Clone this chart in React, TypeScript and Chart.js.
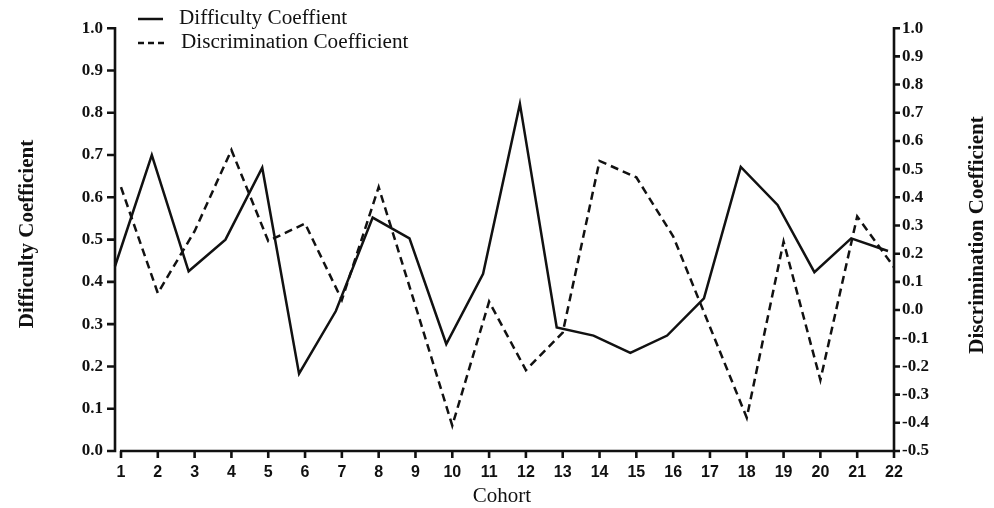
import React, { useEffect, useRef } from "react";
import { Chart, registerables } from "chart.js";

Chart.register(...registerables);

const cohorts = [1, 2, 3, 4, 5, 6, 7, 8, 9, 10, 11, 12, 13, 14, 15, 16, 17, 18, 19, 20, 21, 22];
const difficulty = [0.437, 0.70, 0.425, 0.50, 0.67, 0.183, 0.331, 0.552, 0.503, 0.253, 0.419, 0.821, 0.292, 0.273, 0.232, 0.273, 0.361, 0.672, 0.582, 0.423, 0.503, 0.473];
const discrimination = [0.436, 0.06, 0.28, 0.568, 0.245, 0.307, 0.036, 0.436, 0.015, -0.41, 0.03, -0.213, -0.08, 0.529, 0.471, 0.262, -0.06, -0.382, 0.243, -0.248, 0.332, 0.152];
const leftTicks = [0, 0.1, 0.2, 0.3, 0.4, 0.5, 0.6, 0.7, 0.8, 0.9, 1.0];
const rightTicks = [-0.5, -0.4, -0.3, -0.2, -0.1, 0, 0.1, 0.2, 0.3, 0.4, 0.5, 0.6, 0.7, 0.8, 0.9, 1.0];
const seriesNames = ["Difficulty Coeffient", "Discrimination Coefficient"];
const xTitle = "Cohort";
const leftTitle = "Difficulty Coefficient";
const rightTitle = "Discrimination Coefficient";

const SERIF = '"Liberation Serif", "Times New Roman", serif';
const SANS = '"Liberation Sans", Arial, sans-serif';
const INK = "#111";

const axesPlugin = {
  id: "prismAxes",
  afterDraw(chart: any) {
    const ctx = chart.ctx;
    const { left, right, top, bottom } = chart.chartArea;
    const y = chart.scales.y;
    const y2 = chart.scales.y2;
    const x = chart.scales.x;
    ctx.save();
    ctx.strokeStyle = INK;
    ctx.fillStyle = INK;
    ctx.lineWidth = 2.6;
    ctx.lineCap = "butt";
    const lx = left - 6;
    // left axis
    ctx.beginPath();
    ctx.moveTo(lx, top - 1.3);
    ctx.lineTo(lx, bottom + 1.3);
    leftTicks.forEach((v) => {
      const p = y.getPixelForValue(v);
      ctx.moveTo(lx - 8, p);
      ctx.lineTo(lx, p);
    });
    ctx.stroke();
    // right axis
    ctx.beginPath();
    ctx.moveTo(right, top - 1.3);
    ctx.lineTo(right, bottom + 1.3);
    rightTicks.forEach((v) => {
      const p = y2.getPixelForValue(v);
      ctx.moveTo(right, p);
      ctx.lineTo(right + 6, p);
    });
    ctx.stroke();
    // x axis
    ctx.beginPath();
    ctx.moveTo(left - 1, bottom);
    ctx.lineTo(right + 1, bottom);
    cohorts.forEach((c) => {
      const p = x.getPixelForValue(c);
      ctx.moveTo(p, bottom);
      ctx.lineTo(p, bottom + 7);
    });
    ctx.stroke();

    // titles
    ctx.textAlign = "center";
    ctx.textBaseline = "middle";
    ctx.font = `bold 21px ${SERIF}`;
    ctx.save();
    ctx.translate(28, 234);
    ctx.rotate(-Math.PI / 2);
    ctx.fillText(leftTitle, 0, 0);
    ctx.restore();
    ctx.save();
    ctx.translate(978, 235);
    ctx.rotate(-Math.PI / 2);
    ctx.fillText(rightTitle, 0, 0);
    ctx.restore();
    ctx.font = `21px ${SERIF}`;
    ctx.fillText(xTitle, 502, 496);

    // legend
    ctx.lineWidth = 2.5;
    ctx.beginPath();
    ctx.moveTo(138, 19);
    ctx.lineTo(163, 19);
    ctx.stroke();
    ctx.setLineDash([6, 4]);
    ctx.beginPath();
    ctx.moveTo(138, 43);
    ctx.lineTo(166, 43);
    ctx.stroke();
    ctx.setLineDash([]);
    ctx.textAlign = "left";
    ctx.font = `20px ${SERIF}`;
    ctx.save();
    ctx.translate(179, 19);
    ctx.scale(1.06, 1);
    ctx.fillText(seriesNames[0], 0, 0);
    ctx.restore();
    ctx.save();
    ctx.translate(181, 43);
    ctx.scale(1.06, 1);
    ctx.fillText(seriesNames[1], 0, 0);
    ctx.restore();
    ctx.restore();
  },
};

export default function App() {
  const ref = useRef<HTMLCanvasElement | null>(null);
  useEffect(() => {
    if (!ref.current) return;
    const shift = 6 / (773 / 21);
    const chart = new Chart(ref.current, {
      type: "line",
      data: {
        datasets: [
          {
            label: seriesNames[0],
            data: cohorts.map((c, i) => ({ x: c, y: difficulty[i] })),
            borderColor: INK,
            borderWidth: 2.5,
            pointRadius: 0,
            tension: 0,
            xAxisID: "xs",
            yAxisID: "y",
            clip: false as any,
          },
          {
            label: seriesNames[1],
            data: cohorts.map((c, i) => ({ x: c, y: discrimination[i] })),
            borderColor: INK,
            borderWidth: 2.5,
            borderDash: [8, 5],
            pointRadius: 0,
            tension: 0,
            xAxisID: "x",
            yAxisID: "y2",
            clip: false as any,
          },
        ],
      },
      options: {
        responsive: false,
        animation: false,
        layout: { padding: { top: 20, left: 0, right: 0, bottom: 0 } },
        plugins: { legend: { display: false }, tooltip: { enabled: false } },
        scales: {
          x: {
            type: "linear",
            min: 1,
            max: 22,
            grid: { display: false, drawTicks: false },
            border: { display: false },
            afterBuildTicks: (s: any) => {
              s.ticks = cohorts.map((c) => ({ value: c }));
            },
            afterFit: (s: any) => {
              s.height = 57;
            },
            ticks: {
              padding: 12,
              maxRotation: 0,
              autoSkip: false,
              color: INK,
              font: { family: SANS, size: 16, weight: "bold" },
              callback: (v: any) => String(v),
            },
          },
          xs: {
            type: "linear",
            display: false,
            min: 1 + shift,
            max: 22 + shift,
          },
          y: {
            position: "left",
            min: 0,
            max: 1,
            grid: { display: false, drawTicks: false },
            border: { display: false },
            afterBuildTicks: (s: any) => {
              s.ticks = leftTicks.map((v) => ({ value: v }));
            },
            afterFit: (s: any) => {
              s.width = 121;
            },
            ticks: {
              padding: 18,
              color: INK,
              font: { family: SERIF, size: 17, weight: "bold" },
              callback: (v: any) => Number(v).toFixed(1),
            },
          },
          y2: {
            position: "right",
            min: -0.5,
            max: 1,
            grid: { display: false, drawTicks: false },
            border: { display: false },
            afterBuildTicks: (s: any) => {
              s.ticks = rightTicks.map((v) => ({ value: v }));
            },
            afterFit: (s: any) => {
              s.width = 100;
            },
            ticks: {
              padding: 8,
              color: INK,
              font: { family: SERIF, size: 17, weight: "bold" },
              callback: (v: any) => Number(v).toFixed(1),
            },
          },
        },
      } as any,
      plugins: [axesPlugin],
    });
    return () => chart.destroy();
  }, []);
  return (
    <div style={{ position: "absolute", left: 0, top: 0, width: 994, height: 508, background: "#fff" }}>
      <canvas ref={ref} width={994} height={508} style={{ display: "block" }} />
    </div>
  );
}
